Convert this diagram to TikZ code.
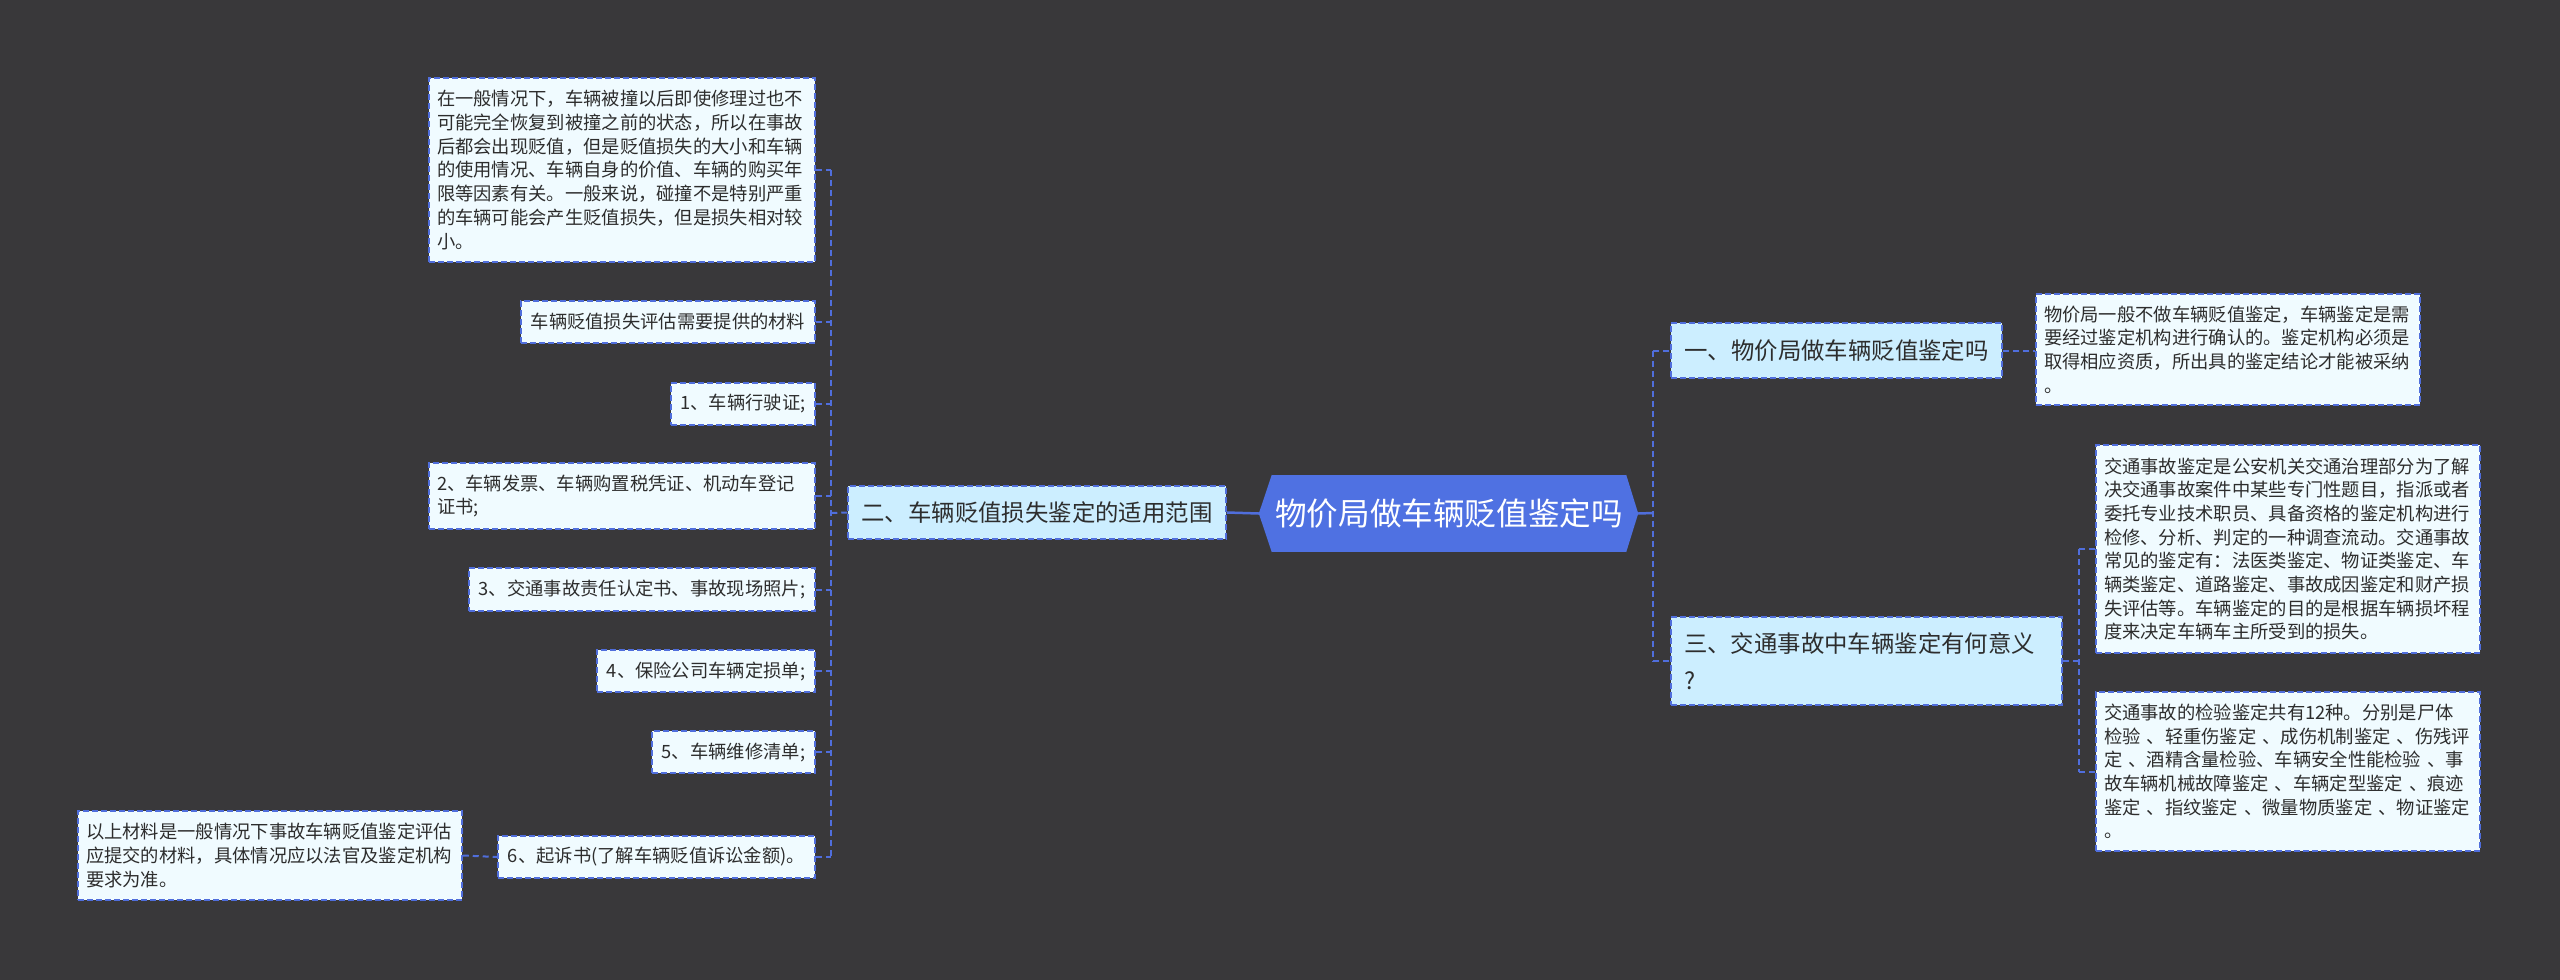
\documentclass[tikz,border=0pt]{standalone}
\usepackage{fontspec}
\setmainfont{Noto Sans CJK SC}
\definecolor{bgcol}{RGB}{57,56,58}
\definecolor{lineblue}{RGB}{80,110,220}
\definecolor{rootfill}{RGB}{79,113,226}
\definecolor{lonefill}{RGB}{204,238,255}
\definecolor{leaffill}{RGB}{240,251,255}
\definecolor{textdark}{RGB}{45,45,45}
\newcommand\leaffont{\fontsize{18.3}{23.7}\selectfont}
\newcommand\lonefont{\fontsize{23.4}{37}\selectfont}
\newcommand\rootfont{\fontsize{31.6}{38}\selectfont}
\begin{document}
\begin{tikzpicture}[x=1pt,y=-1pt,
  leafbox/.style={draw=lineblue, line width=1.5pt, dash pattern=on 6pt off 3pt, fill=leaffill,
    font=\leaffont, text=textdark, align=left, inner xsep=8pt, inner ysep=0pt},
  lonebox/.style={draw=lineblue, line width=1.5pt, dash pattern=on 6pt off 3pt, fill=lonefill,
    font=\lonefont, text=textdark, align=left, inner xsep=13pt, inner ysep=0pt},
  rootbox/.style={fill=rootfill, font=\rootfont, text=white, inner sep=0pt,
    minimum width=354pt, minimum height=77pt},
  conn/.style={draw=lineblue, line width=2pt, dash pattern=on 6pt off 4pt},
  solidconn/.style={draw=lineblue, line width=2.5pt}
]
\useasboundingbox (0,0) rectangle (2560,980);
\fill[bgcol] (0,0) rectangle (2560,980);

% root
\node[rootbox] (root) at (1449,513.5) {物价局做车辆贬值鉴定吗};
\coordinate (rootL) at ([xshift=-13pt]root.west);
\coordinate (rootR) at ([xshift=12pt]root.east);
\fill[rootfill] (root.north east) -- (rootR) -- (root.south east) -- cycle;
\fill[rootfill] (root.north west) -- (rootL) -- (root.south west) -- cycle;

% level 1
\node[lonebox, minimum width=378pt, minimum height=53pt] (two) at (1037,512.5) {二、车辆贬值损失鉴定的适用范围};
\node[lonebox, minimum width=331pt, minimum height=55pt] (one) at (1836.5,350.5) {一、物价局做车辆贬值鉴定吗};
\node[lonebox, text width=365pt, minimum height=88pt] (three) at (1866.5,661) {三、交通事故中车辆鉴定有何意义\\?};

% left leaves
\node[leafbox, text width=370pt, minimum height=184pt] (L0) at (622,170) {在一般情况下，车辆被撞以后即使修理过也不\\可能完全恢复到被撞之前的状态，所以在事故\\后都会出现贬值，但是贬值损失的大小和车辆\\的使用情况、车辆自身的价值、车辆的购买年\\限等因素有关。一般来说，碰撞不是特别严重\\的车辆可能会产生贬值损失，但是损失相对较\\小。};
\node[leafbox, minimum width=294pt, minimum height=42pt] (L1) at (668,322) {车辆贬值损失评估需要提供的材料};
\node[leafbox, minimum width=144pt, minimum height=42pt] (L2) at (743,404) {1、车辆行驶证;};
\node[leafbox, text width=370pt, minimum height=66pt] (L3) at (622,496) {2、车辆发票、车辆购置税凭证、机动车登记\\证书;};
\node[leafbox, minimum width=346pt, minimum height=43pt] (L4) at (642,589.5) {3、交通事故责任认定书、事故现场照片;};
\node[leafbox, minimum width=218pt, minimum height=42pt] (L5) at (706,671) {4、保险公司车辆定损单;};
\node[leafbox, minimum width=163pt, minimum height=42pt] (L6) at (733.5,752) {5、车辆维修清单;};
\node[leafbox, minimum width=317pt, minimum height=42pt] (L7) at (656.5,857) {6、起诉书(了解车辆贬值诉讼金额)。};
\node[leafbox, text width=368pt, minimum height=89pt] (L8) at (270,855.5) {以上材料是一般情况下事故车辆贬值鉴定评估\\应提交的材料，具体情况应以法官及鉴定机构\\要求为准。};

% right leaves
\node[leafbox, text width=368pt, minimum height=111pt] (R1) at (2228,349.5) {物价局一般不做车辆贬值鉴定，车辆鉴定是需\\要经过鉴定机构进行确认的。鉴定机构必须是\\取得相应资质，所出具的鉴定结论才能被采纳\\。};
\node[leafbox, text width=368pt, minimum height=208pt] (R2) at (2288,549) {交通事故鉴定是公安机关交通治理部分为了解\\决交通事故案件中某些专门性题目，指派或者\\委托专业技术职员、具备资格的鉴定机构进行\\检修、分析、判定的一种调查流动。交通事故\\常见的鉴定有：法医类鉴定、物证类鉴定、车\\辆类鉴定、道路鉴定、事故成因鉴定和财产损\\失评估等。车辆鉴定的目的是根据车辆损坏程\\度来决定车辆车主所受到的损失。};
\node[leafbox, text width=368pt, minimum height=159pt] (R3) at (2288,771.5) {交通事故的检验鉴定共有12种。分别是尸体\\检验 、轻重伤鉴定 、成伤机制鉴定 、伤残评\\定 、酒精含量检验、车辆安全性能检验 、事\\故车辆机械故障鉴定 、车辆定型鉴定 、痕迹\\鉴定 、指纹鉴定 、微量物质鉴定 、物证鉴定\\。};

% connectors: root
\draw[solidconn] (rootL) -- (two.east);
\coordinate (bR) at (1653,513);
\draw[solidconn] (rootR) -- (bR);

% left bus
\coordinate (bL) at (831,513);
\draw[conn] (two.west) -- (bL);
\foreach \n in {L0,L1,L2,L3,L4,L5,L6,L7}{
  \draw[conn] (\n.east) -- (\n.east -| bL);
}
\draw[conn] (L0.east -| bL) -- (L7.east -| bL);
\draw[conn] (L8.east) -- (L7.west);

% right bus
\draw[conn] (one.west -| bR) -- (three.west -| bR);
\draw[conn] (bR |- one.west) -- (one.west);
\draw[conn] (bR |- three.west) -- (three.west);
\draw[conn] (one.east) -- (one.east -| R1.west);

% second right bus
\coordinate (bT) at (2079,661);
\draw[conn] (three.east) -- (bT);
\draw[conn] (R2.west -| bT) -- (R3.west -| bT);
\draw[conn] (R2.west -| bT) -- (R2.west);
\draw[conn] (R3.west -| bT) -- (R3.west);
\end{tikzpicture}
\end{document}
